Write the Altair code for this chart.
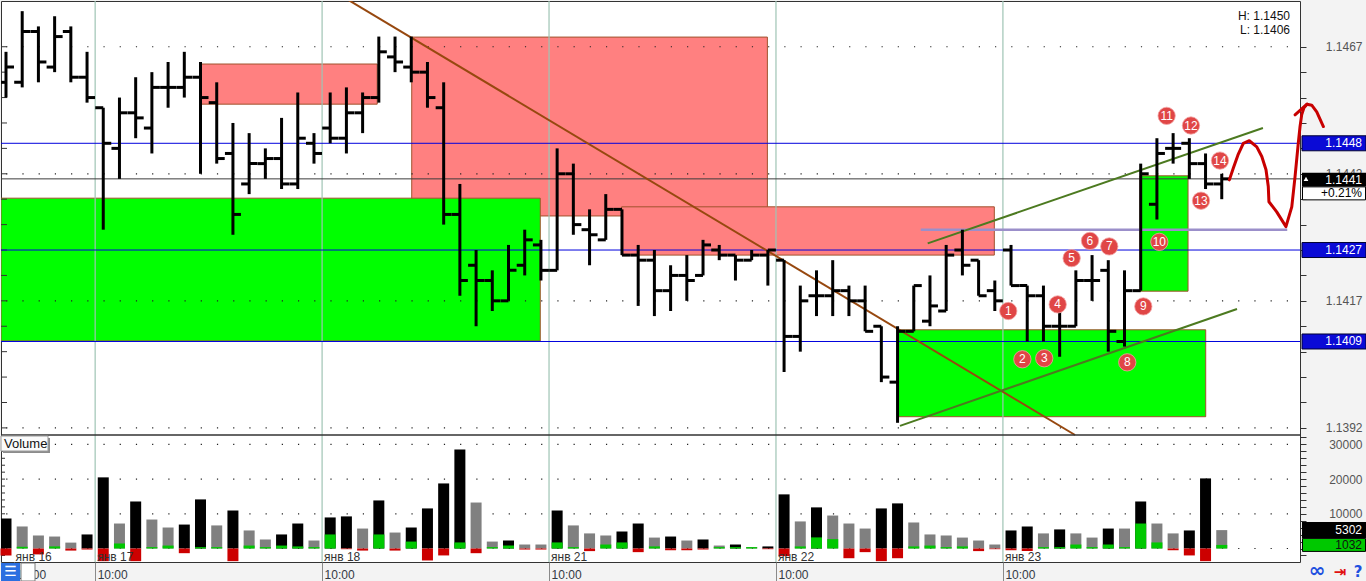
import altair as alt
import pandas as pd

FONT = "Liberation Sans"

# ---------------- price bars (OHLC) ----------------
bar_index = list(range(76))
opens = [1.1460, 1.1460, 1.1470, 1.1463, 1.1470, 1.1461, 1.1455, 1.1447, 1.1454, 1.1451,
         1.1459, 1.1459, 1.1461, 1.1456, 1.1446, 1.1440, 1.1444, 1.1445, 1.1440, 1.1448,
         1.1451, 1.1449, 1.1454, 1.1457, 1.1465, 1.1463, 1.1462, 1.1455, 1.1434, 1.1424,
         1.1421, 1.1417, 1.1424, 1.1428, 1.1423, 1.1442, 1.1431, 1.1429, 1.1435, 1.1426,
         1.1425, 1.1419, 1.1422, 1.1422, 1.1427, 1.1426, 1.1425, 1.1426, 1.1425, 1.1410,
         1.1418, 1.1418, 1.1419, 1.1417, 1.1412, 1.1401, 1.1411, 1.1413, 1.1415, 1.1427,
         1.1425, 1.1419, 1.1427, 1.1420, 1.1418, 1.1412, 1.1412, 1.1421, 1.1423, 1.1409,
         1.1419, 1.1436, 1.1447, 1.1448, 1.1444, 1.1440]
highs = [1.1466, 1.1474, 1.1471, 1.1473, 1.1471, 1.1466, 1.1455, 1.1457, 1.1461, 1.1462,
         1.1464, 1.1466, 1.1464, 1.1460, 1.1452, 1.1450, 1.1447, 1.1453, 1.1458, 1.1450,
         1.1458, 1.1459, 1.1458, 1.1469, 1.1469, 1.1469, 1.1464, 1.1460, 1.1440, 1.1427,
         1.1423, 1.1428, 1.1431, 1.1429, 1.1447, 1.1444, 1.1435, 1.1438, 1.1435, 1.1428,
         1.1427, 1.1424, 1.1426, 1.1429, 1.1428, 1.1426, 1.1427, 1.1427, 1.1425, 1.1420,
         1.1423, 1.1425, 1.1420, 1.1420, 1.1412, 1.1412, 1.1420, 1.1422, 1.1428, 1.1431,
         1.1425, 1.1421, 1.1428, 1.1420, 1.1420, 1.1415, 1.1423, 1.1426, 1.1425, 1.1423,
         1.1444, 1.1449, 1.1450, 1.1449, 1.1446, 1.1442]
lows = [1.1457, 1.1459, 1.1460, 1.1462, 1.1460, 1.1456, 1.1431, 1.1441, 1.1449, 1.1446,
        1.1455, 1.1457, 1.1442, 1.1444, 1.1430, 1.1438, 1.1441, 1.1439, 1.1439, 1.1444,
        1.1448, 1.1446, 1.1450, 1.1456, 1.1462, 1.1460, 1.1455, 1.1432, 1.1418, 1.1412,
        1.1415, 1.1417, 1.1422, 1.1421, 1.1423, 1.1430, 1.1424, 1.1429, 1.1426, 1.1416,
        1.1414, 1.1415, 1.1417, 1.1422, 1.1425, 1.1421, 1.1425, 1.1420, 1.1403, 1.1407,
        1.1414, 1.1414, 1.1414, 1.1411, 1.1401, 1.1393, 1.1411, 1.1412, 1.1415, 1.1422,
        1.1418, 1.1415, 1.1420, 1.1409, 1.1409, 1.1406, 1.1412, 1.1417, 1.1407, 1.1408,
        1.1419, 1.1433, 1.1444, 1.1441, 1.1439, 1.1437]
closes = [1.1463, 1.1470, 1.1464, 1.1469, 1.1461, 1.1457, 1.1448, 1.1454, 1.1453, 1.1459,
          1.1459, 1.1461, 1.1457, 1.1445, 1.1434, 1.1444, 1.1445, 1.1440, 1.1449, 1.1446,
          1.1449, 1.1454, 1.1457, 1.1466, 1.1464, 1.1462, 1.1457, 1.1434, 1.1421, 1.1421,
          1.1417, 1.1423, 1.1429, 1.1423, 1.1442, 1.1432, 1.1430, 1.1435, 1.1426, 1.1425,
          1.1419, 1.1422, 1.1421, 1.1428, 1.1426, 1.1425, 1.1426, 1.1427, 1.1410, 1.1417,
          1.1418, 1.1419, 1.1417, 1.1411, 1.1402, 1.1411, 1.1420, 1.1416, 1.1426, 1.1424,
          1.1418, 1.1417, 1.1420, 1.1418, 1.1412, 1.1412, 1.1421, 1.1421, 1.1411, 1.1419,
          1.1442, 1.1446, 1.1447, 1.1444, 1.1440, 1.1441]

# ---------------- volume ----------------
vol_total = [8650, 6350, 3750, 3450, 1700, 4050, 20500, 7200, 13550, 8350,
             6050, 6900, 14150, 6650, 10950, 5200, 2600, 4050, 7200, 2300,
             8950, 9250, 5750, 13850, 4600, 6050, 11550, 18750, 28550, 13250,
             2000, 2300, 1150, 1150, 10950, 6650, 4350, 3750, 4900, 7200,
             3150, 3450, 2300, 2600, 850, 1150, 400, 600, 15600, 7800,
             11850, 9500, 7200, 5750, 11550, 13000, 7500, 4050, 3750, 3150,
             2300, 1150, 5200, 6350, 4350, 5500, 4350, 3150, 5750, 5750,
             13550, 7200, 4350, 5200, 20200, 5302]
vol_kind = ["k", "g", "g", "g", "g", "k", "k", "g", "k", "g",
            "g", "k", "k", "g", "k", "g", "g", "k", "k", "g",
            "k", "k", "g", "k", "g", "k", "k", "k", "k", "g",
            "g", "k", "g", "g", "k", "g", "g", "g", "k", "k",
            "g", "k", "g", "k", "g", "k", "g", "k", "k", "g",
            "k", "g", "g", "g", "k", "k", "g", "g", "g", "g",
            "g", "g", "k", "k", "g", "k", "g", "g", "k", "g",
            "k", "g", "g", "k", "k", "g"]
vol_buy = [0, 500, 0, 600, 0, 0, 0, 1450, 0, 400,
           850, 0, 400, 400, 0, 850, 400, 850, 600, 400,
           4050, 0, 0, 4050, 0, 2000, 0, 0, 1750, 0,
           400, 850, 0, 0, 1750, 400, 0, 1150, 1750, 0,
           600, 0, 0, 0, 400, 400, 400, 0, 0, 600,
           3200, 2700, 0, 0, 0, 0, 600, 850, 400, 600,
           0, 0, 0, 0, 400, 400, 1150, 400, 1150, 400,
           7200, 1750, 0, 0, 0, 1032]
vol_sell = [2000, 0, 1700, 0, 600, 300, 3650, 0, 3650, 0,
            0, 1350, 0, 0, 3650, 0, 0, 0, 0, 0,
            0, 200, 600, 0, 600, 0, 3450, 2000, 0, 1350,
            0, 0, 300, 300, 0, 0, 750, 0, 0, 1050,
            0, 500, 500, 300, 0, 0, 0, 200, 2200, 0,
            0, 0, 2800, 1050, 3650, 2800, 0, 0, 0, 0,
            750, 200, 500, 750, 0, 0, 0, 0, 0, 0,
            0, 0, 500, 2000, 3650, 0]

# ---------------- axes / labels ----------------
price_ticks = [1.1392, 1.1397, 1.1402, 1.1407, 1.1412, 1.1417, 1.1422, 1.1427,
               1.1432, 1.1437, 1.1442, 1.1447, 1.1452, 1.1457, 1.1462, 1.1467]
price_grid = [1.1392, 1.1417, 1.1442, 1.1467]
vol_ticks = [-2000, 0, 2000, 4000, 6000, 8000, 10000, 12000, 14000, 16000, 18000,
             20000, 22000, 24000, 26000, 28000, 30000, 32000]
vol_grid = [0, 10000, 20000, 30000]
day_breaks = [5.5, 19.5, 33.5, 47.5, 61.5]
day_label_pos = [0.47, 5.5, 19.5, 33.5, 47.5, 61.5]
day_labels = ["янв 16", "янв 17", "янв 18", "янв 21", "янв 22", "янв 23"]
time_label = "10:00"
level_lines = [1.1448, 1.1427, 1.1409]
last_price = [1.1441]
change_text = ["+0.21%"]
hl_texts = ["H: 1.1450", "L: 1.1406"]
last_volume = [5302]
last_delta = [1032]

# ---------------- drawn objects ----------------
zone_kind = ["sell", "sell", "sell", "buy", "buy", "buy"]
zone_x0 = [12.05, 25.03, 37.98, -0.308, 55.05, 69.96]
zone_x1 = [22.90, 46.97, 60.97, 32.96, 74.01, 72.92]
zone_top = [1.14636, 1.14689, 1.14355, 1.14372, 1.14113, 1.14416]
zone_bot = [1.14557, 1.14337, 1.14260, 1.14091, 1.13942, 1.14189]

brown_i = [21.12, 65.95]
brown_p = [1.14762, 1.13906]
green_name = ["up", "up", "low", "low"]
green_i = [56.86, 77.54, 55.15, 75.94]
green_p = [1.14283, 1.14510, 1.13924, 1.14154]
purple_i = [56.43, 79.04]
purple_p = [1.1431, 1.1431]

curve_seg = [0] * 22 + [1, 1]
curve_i = [75.47, 75.71, 76.00, 76.33, 76.70, 77.16, 77.47, 77.73, 77.87, 77.91, 78.39,
           78.96, 79.32, 79.52, 79.72, 79.83, 79.93, 80.07, 80.26, 80.55, 80.86, 81.27,
           79.52, 80.26]
curve_p = [1.14408, 1.14431, 1.14457, 1.14480, 1.14485, 1.14473, 1.14454, 1.14428, 1.14395,
           1.14365, 1.14345, 1.14316, 1.14355, 1.14414, 1.14480, 1.14513, 1.14536, 1.14550,
           1.14557, 1.14555, 1.14542, 1.14513,
           1.14536, 1.14557]

circ_n = ["1", "2", "3", "4", "5", "6", "7", "8", "9", "10", "11", "12", "13", "14"]
circ_i = [61.83, 62.70, 64.05, 64.88, 65.74, 66.87, 68.06, 69.17, 70.16, 71.15, 71.60,
          73.10, 73.72, 74.89]
circ_p = [1.14150, 1.14055, 1.14057, 1.14163, 1.14254, 1.14288, 1.14277, 1.14049, 1.14159,
          1.14286, 1.14534, 1.14515, 1.14367, 1.14446]

# ---------------- frames ----------------
bars_df = pd.DataFrame({"i": bar_index, "o": opens, "h": highs, "l": lows, "c": closes})
vol_df = pd.DataFrame({"i": bar_index, "v": vol_total, "k": vol_kind,
                       "b": vol_buy, "s": [-x for x in vol_sell]})
zones_df = pd.DataFrame({"kind": zone_kind, "x0": zone_x0, "x1": zone_x1,
                         "p0": zone_top, "p1": zone_bot})
days_df = pd.DataFrame({"d": day_breaks})
daylab_df = pd.DataFrame({"d": day_label_pos, "t": day_labels})
pgrid_df = pd.DataFrame({"g": price_grid})
vgrid_df = pd.DataFrame({"g": vol_grid})
ptick_df = pd.DataFrame({"g": price_ticks})
vtick_df = pd.DataFrame({"g": vol_ticks})
levels_df = pd.DataFrame({"p": level_lines, "t": ["%.4f" % v for v in level_lines]})
last_df = pd.DataFrame({"p": last_price, "t": ["%.4f" % v for v in last_price], "c": change_text})
brown_df = pd.DataFrame({"i": brown_i, "p": brown_p})
green_df = pd.DataFrame({"n": green_name, "i": green_i, "p": green_p})
purple_df = pd.DataFrame({"i": purple_i, "p": purple_p})
curve_df = pd.DataFrame({"s": curve_seg, "o": list(range(len(curve_i))), "i": curve_i, "p": curve_p})
circ_df = pd.DataFrame({"n": circ_n, "i": circ_i, "p": circ_p})
hl_df = pd.DataFrame({"t": hl_texts})
lastvol_df = pd.DataFrame({"v": last_volume, "t": [str(v) for v in last_volume]})
lastdelta_df = pd.DataFrame({"v": last_delta, "t": [str(v) for v in last_delta]})
one_df = pd.DataFrame({"t": ["Volume"]})

X_DOM = [-0.308, 79.827]
P_DOM = [1.13906, 1.1476]
V_DOM = [-3890, 32709]
split_df = pd.DataFrame({"v": [V_DOM[1]]})

W, H = 1299, 561          # whole plotting area (price + volume)
P_BOTTOM = 434            # price panel occupies 0..434
V_TOP = 434               # volume panel occupies 434..561

price_axis = alt.Axis(
    orient="right", values=price_ticks, title=None, grid=False,
    labelExpr="round((datum.value - 1.1392) * 10000) % 25 == 0 ? format(datum.value, '.4f') : ''",
    tickSize=6, tickColor="#333333", domain=False,
    labelPadding=56, labelAlign="right", labelBaseline="middle",
    labelFont=FONT, labelFontSize=12, labelColor="#555555",
    labelOverlap=False, labelFlush=False)
vol_axis = alt.Axis(
    orient="right", values=vol_ticks, title=None, grid=False,
    labelExpr="datum.value > 0 && datum.value % 10000 == 0 ? '' + datum.value : ''",
    tickSize=6, tickColor="#333333", domain=False,
    labelPadding=56, labelAlign="right", labelBaseline="middle",
    labelFont=FONT, labelFontSize=12, labelColor="#555555",
    labelOverlap=False, labelFlush=False)
time_axis = alt.Axis(
    orient="bottom", values=day_label_pos, title=None, grid=False, domain=False,
    labelExpr="'" + time_label + "'", tickSize=19, tickColor="#8a8a8a",
    labelPadding=-12, labelAlign="left", labelOffset=2,
    labelFont=FONT, labelFontSize=12, labelColor="#333a44",
    labelOverlap=False, labelFlush=False, zindex=0)

XS = alt.Scale(domain=X_DOM, nice=False, zero=False, padding=0)
PS = alt.Scale(domain=P_DOM, range=[P_BOTTOM, 0], nice=False, zero=False, padding=0)
VS = alt.Scale(domain=V_DOM, range=[H, V_TOP], nice=False, zero=False, padding=0)


def X(f):
    return alt.X(f + ":Q", scale=XS, axis=time_axis)


def PY(f):
    return alt.Y(f + ":Q", scale=PS, axis=price_axis)


def VY(f):
    return alt.Y(f + ":Q", scale=VS, axis=vol_axis)


ZONE_STROKE = "#a0522d"
DAY_COLOR = "#9fc4b4"
TXT = dict(font=FONT, fontSize=12)

# ---------------- price panel ----------------
p_layers = [
    alt.Chart(zones_df).transform_filter("datum.kind == 'sell'").mark_rect(
        fill="#ff8080", stroke=ZONE_STROKE, strokeWidth=1).encode(
        x=X("x0"), x2="x1", y=PY("p0"), y2="p1"),
    alt.Chart(zones_df).transform_filter("datum.kind == 'buy'").mark_rect(
        fill="#00ff00", stroke=ZONE_STROKE, strokeWidth=1, clip=True).encode(
        x=X("x0"), x2="x1", y=PY("p0"), y2="p1"),
    alt.Chart(days_df).mark_rule(color=DAY_COLOR, strokeWidth=1.2).encode(x=X("d")),
    alt.Chart(pgrid_df).mark_rule(color="#222222", strokeWidth=1.2, strokeDash=[1.2, 15.01],
                                  strokeDashOffset=4.2).encode(y=PY("g")),
    alt.Chart(ptick_df).mark_tick(orient="horizontal", color="#333333", size=6, thickness=1,
                                  opacity=1).encode(x=alt.value(3), y=PY("g")),
    alt.Chart(levels_df).mark_rule(color="#0000dd", strokeWidth=1).encode(y=PY("p")),
    alt.Chart(last_df).mark_rule(color="#3c3c3c", strokeWidth=1).encode(y=PY("p")),
    alt.Chart(purple_df).mark_line(color="#9b8fca", strokeWidth=2.5).encode(x=X("i"), y=PY("p")),
    alt.Chart(brown_df).mark_line(color="#97480f", strokeWidth=2, clip=True).encode(
        x=X("i"), y=PY("p")),
    alt.Chart(green_df).mark_line(color="#4c7a20", strokeWidth=2).encode(
        x=X("i"), y=PY("p"), detail="n:N"),
    alt.Chart(bars_df).mark_rule(color="black", strokeWidth=3).encode(
        x=X("i"), y=PY("l"), y2="h"),
    alt.Chart(bars_df).mark_tick(orient="horizontal", color="black", size=8, thickness=3,
                                 opacity=1, xOffset=-4, clip=True).encode(x=X("i"), y=PY("o")),
    alt.Chart(bars_df).mark_tick(orient="horizontal", color="black", size=8, thickness=3,
                                 opacity=1, xOffset=4).encode(x=X("i"), y=PY("c")),
    alt.Chart(curve_df).mark_line(color="#c80000", strokeWidth=3,
                                  strokeCap="round", strokeJoin="round").encode(
        x=X("i"), y=PY("p"), detail="s:N", order="o:Q"),
    alt.Chart(circ_df).mark_circle(color="#e04646", size=300, opacity=1,
                                   stroke="#f2a5a5", strokeWidth=0.8).encode(x=X("i"), y=PY("p")),
    alt.Chart(circ_df).mark_text(color="white", font=FONT, fontSize=12).encode(
        x=X("i"), y=PY("p"), text="n:N"),
    alt.Chart(hl_df.iloc[[0]]).mark_text(align="right", baseline="middle", color="#111111",
                                         **TXT).encode(
        x=alt.value(1289), y=alt.value(15), text="t:N"),
    alt.Chart(hl_df.iloc[[1]]).mark_text(align="right", baseline="middle", color="#111111",
                                         **TXT).encode(
        x=alt.value(1289), y=alt.value(28.5), text="t:N"),
    # right-hand price boxes
    alt.Chart(levels_df).mark_tick(orient="horizontal", color="#0a0ad6", size=64, thickness=15,
                                   opacity=1, stroke="#000033", strokeWidth=1).encode(
        x=alt.value(1333), y=PY("p")),
    alt.Chart(levels_df).mark_text(align="right", baseline="middle", color="white",
                                   **TXT).encode(x=alt.value(1361), y=PY("p"), text="t:N"),
    alt.Chart(last_df).mark_tick(orient="horizontal", color="#000000", size=64, thickness=14,
                                 opacity=1, yOffset=1).encode(x=alt.value(1333), y=PY("p")),
    alt.Chart(last_df).mark_tick(orient="horizontal", color="#ffffff", size=63, thickness=13,
                                 opacity=1, stroke="#000000", strokeWidth=1,
                                 yOffset=14.5).encode(x=alt.value(1333), y=PY("p")),
    alt.Chart(last_df).mark_point(shape="triangle-up", filled=True, color="white", size=22,
                                  opacity=1).encode(x=alt.value(1305), y=PY("p")),
    alt.Chart(last_df).mark_text(align="right", baseline="middle", color="white", dy=1,
                                 **TXT).encode(x=alt.value(1361), y=PY("p"), text="t:N"),
    alt.Chart(last_df).mark_text(align="right", baseline="middle", color="black", dy=14.5,
                                 **TXT).encode(x=alt.value(1361), y=PY("p"), text="c:N"),
]

# ---------------- volume panel ----------------
v_layers = [
    alt.Chart(split_df).mark_rule(color="#333333", strokeWidth=1.5).encode(y=VY("v")),
    alt.Chart(vgrid_df).mark_rule(color="#222222", strokeWidth=1.2, strokeDash=[1.2, 15.01],
                                  strokeDashOffset=4.2).encode(y=VY("g")),
    alt.Chart(vtick_df).mark_tick(orient="horizontal", color="#333333", size=4, thickness=1,
                                  opacity=1).encode(x=alt.value(2), y=VY("g")),
    alt.Chart(vol_df).mark_bar(size=11, clip=True).encode(
        x=X("i"), y=VY("v"), y2=alt.datum(0),
        color=alt.Color("k:N", scale=alt.Scale(domain=["k", "g"], range=["#000000", "#808080"]),
                        legend=None)),
    alt.Chart(vol_df).transform_filter("datum.b > 0").mark_bar(size=11, color="#00c800").encode(
        x=X("i"), y=VY("b"), y2=alt.datum(0)),
    alt.Chart(vol_df).transform_filter("datum.s < 0").mark_bar(size=11, color="#cc0000").encode(
        x=X("i"), y=VY("s"), y2=alt.datum(0)),
    alt.Chart(daylab_df).mark_text(align="left", baseline="middle", color="#333333", dx=2,
                                   **TXT).encode(
        x=X("d"), y=alt.value(V_TOP + 121.5), text="t:N"),
    # "Volume" caption
    alt.Chart(one_df).mark_rect(color="#8c8c8c").encode(
        x=alt.value(2), x2=alt.value(49), y=alt.value(V_TOP + 3), y2=alt.value(V_TOP + 18)),
    alt.Chart(one_df).mark_rect(fill="#fbfbfb", stroke="#9a9a9a", strokeWidth=1).encode(
        x=alt.value(0), x2=alt.value(47), y=alt.value(V_TOP + 1), y2=alt.value(V_TOP + 16)),
    alt.Chart(one_df).mark_text(align="left", baseline="middle", color="#111111",
                                font=FONT, fontSize=13).encode(
        x=alt.value(3), y=alt.value(V_TOP + 9), text="t:N"),
    # right-hand volume boxes
    alt.Chart(lastvol_df).mark_tick(orient="horizontal", color="#000000", size=64, thickness=16,
                                    opacity=1).encode(x=alt.value(1333), y=VY("v")),
    alt.Chart(lastvol_df).mark_text(align="right", baseline="middle", color="white",
                                    **TXT).encode(x=alt.value(1361), y=VY("v"), text="t:N"),
    alt.Chart(lastdelta_df).mark_tick(orient="horizontal", color="#00c800", size=63, thickness=13,
                                      opacity=1, stroke="#000000", strokeWidth=1).encode(
        x=alt.value(1333), y=VY("v")),
    alt.Chart(lastdelta_df).mark_text(align="right", baseline="middle", color="#111111",
                                      **TXT).encode(x=alt.value(1361), y=VY("v"), text="t:N"),
    # bottom icons
    alt.Chart(one_df).mark_rect(color="#2b6fe0").encode(
        x=alt.value(0), x2=alt.value(19), y=alt.value(H + 1), y2=alt.value(H + 19)),
    alt.Chart(pd.DataFrame({"t": ["☰"]})).mark_text(
        color="white", font="DejaVu Sans", fontSize=14).encode(
        x=alt.value(9.5), y=alt.value(H + 10), text="t:N"),
    alt.Chart(one_df).mark_rect(fill="white", stroke="#7a7a7a").encode(
        x=alt.value(20), x2=alt.value(34), y=alt.value(H + 1), y2=alt.value(H + 19)),
    alt.Chart(pd.DataFrame({"t": ["∞"]})).mark_text(
        color="#2050e0", font="DejaVu Sans", fontSize=20, fontWeight="bold").encode(
        x=alt.value(1316), y=alt.value(H + 9), text="t:N"),
    alt.Chart(pd.DataFrame({"t": ["⇥"]})).mark_text(
        color="#e01010", font="DejaVu Sans", fontSize=15, fontWeight="bold").encode(
        x=alt.value(1339), y=alt.value(H + 10), text="t:N"),
    alt.Chart(pd.DataFrame({"t": ["?"]})).mark_text(
        color="#2050e0", font="DejaVu Sans", fontSize=15, fontWeight="bold").encode(
        x=alt.value(1357), y=alt.value(H + 10), text="t:N"),
]

price = alt.layer(*p_layers)
volume = alt.layer(*v_layers)

chart = alt.layer(price, volume).resolve_scale(y="independent").resolve_axis(
    y="independent").properties(
    width=W, height=H,
    autosize=alt.AutoSizeParams(type="none"),
    padding={"left": 1, "top": 1, "right": 66, "bottom": 19},
    background="#f3f3f3",
).configure_view(fill="white", stroke="#333333", strokeWidth=1)

chart.save("out.html", embed_options={"renderer": "svg", "actions": False})
